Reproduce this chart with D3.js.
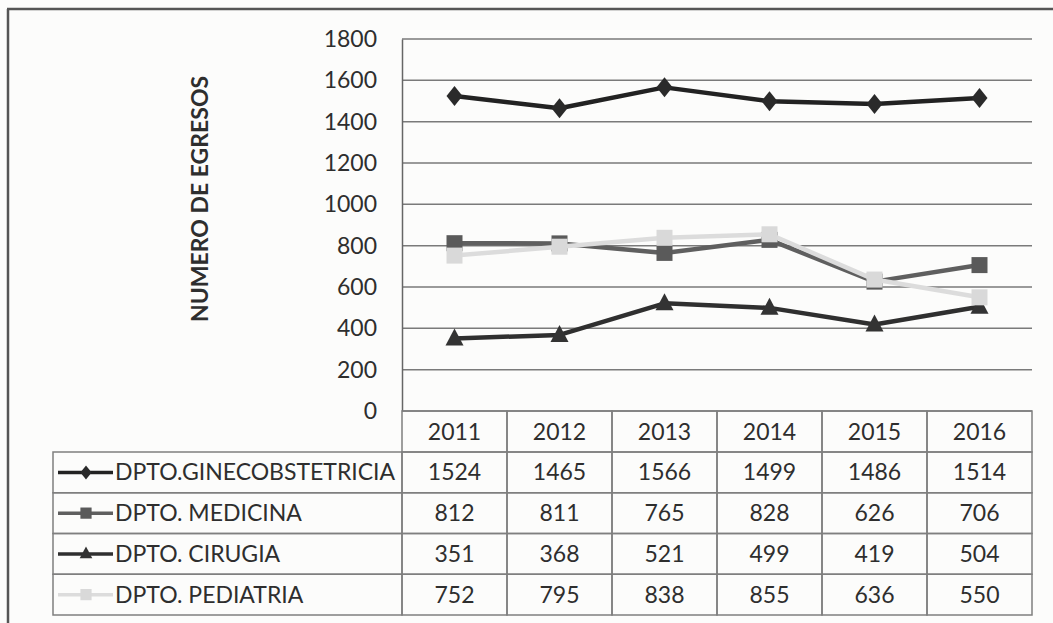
<!DOCTYPE html>
<html><head><meta charset="utf-8">
<script src="https://cdn.jsdelivr.net/npm/d3@7"></script>
<style>
html,body{margin:0;padding:0;background:#fcfcfb;}
svg{display:block;}
text{font-family:Lato,"Open Sans",sans-serif;fill:#2e2e2e;}
</style></head>
<body>
<svg id="c" width="1053" height="623"></svg>
<script>
const years = ["2011","2012","2013","2014","2015","2016"];
const seriesNames = ["DPTO.GINECOBSTETRICIA","DPTO. MEDICINA","DPTO. CIRUGIA","DPTO. PEDIATRIA"];
const gineco = [1524,1465,1566,1499,1486,1514];
const medicina = [812,811,765,828,626,706];
const cirugia = [351,368,521,499,419,504];
const pediatria = [752,795,838,855,636,550];
const yTicks = [0,200,400,600,800,1000,1200,1400,1600,1800];
const yTitle = "NUMERO DE EGRESOS";

const series = [
  {name: seriesNames[0], values: gineco, color:"#222", marker:"diamond", mcolor:"#2a2a2a"},
  {name: seriesNames[1], values: medicina, color:"#5f5f5f", marker:"square", mcolor:"#5a5a5a"},
  {name: seriesNames[2], values: cirugia, color:"#2f2f2f", marker:"triangle", mcolor:"#333"},
  {name: seriesNames[3], values: pediatria, color:"#dcdcdc", marker:"square", mcolor:"#d9d9d9"}
];

const svg = d3.select("#c");
const plotL = 402, plotR = 1032, plotT = 39, plotB = 411;
const x = d3.scaleBand().domain(years).range([plotL, plotR]);
const y = d3.scaleLinear().domain([0,1800]).range([plotB, plotT]);
const FS = "23px";

// outer frame
svg.append("line").attr("x1",7).attr("x2",1053).attr("y1",9).attr("y2",9).attr("stroke","#555").attr("stroke-width",2.5);
svg.append("line").attr("x1",8).attr("x2",8).attr("y1",9).attr("y2",623).attr("stroke","#555").attr("stroke-width",2.5);

// gridlines
svg.append("g").selectAll("line").data(yTicks).join("line")
  .attr("x1",plotL).attr("x2",plotR)
  .attr("y1",d=>y(d)).attr("y2",d=>y(d))
  .attr("stroke","#7a7a7a").attr("stroke-width",1.5);

// y axis
const yAxis = d3.axisLeft(y).tickValues(yTicks).tickSize(0).tickPadding(25).tickFormat(d3.format("d"));
const ga = svg.append("g").attr("transform",`translate(${plotL},0)`).call(yAxis);
ga.select(".domain").attr("stroke","#666").attr("stroke-width",1.5);
ga.selectAll("text").style("font-family","Lato, sans-serif").style("font-size",FS).attr("fill","#333");

// axis title
svg.append("text").attr("transform","translate(208,199) rotate(-90)")
  .attr("text-anchor","middle").style("font-size","23px").style("font-weight","bold")
  .attr("fill","#222").text(yTitle);

// table
const rowH = 40.75, headT = 411, headB = 452;
const tableL = 53;
const tg = svg.append("g");
const gridStroke = "#7f7f7f";
tg.selectAll("rect.h").data(years).join("rect")
  .attr("x",d=>x(d)).attr("y",headT).attr("width",x.bandwidth()).attr("height",headB-headT)
  .attr("fill","none").attr("stroke",gridStroke).attr("stroke-width",1.5);
tg.selectAll("text.h").data(years).join("text")
  .attr("x",d=>x(d)+x.bandwidth()/2).attr("y",(headT+headB)/2+8)
  .attr("text-anchor","middle").style("font-size",FS).text(d=>d);

series.forEach((s,i)=>{
  const top = headB + i*rowH;
  tg.append("rect").attr("x",tableL).attr("y",top).attr("width",plotL-tableL).attr("height",rowH)
    .attr("fill","none").attr("stroke",gridStroke).attr("stroke-width",1.5);
  years.forEach((yr,j)=>{
    tg.append("rect").attr("x",x(yr)).attr("y",top).attr("width",x.bandwidth()).attr("height",rowH)
      .attr("fill","none").attr("stroke",gridStroke).attr("stroke-width",1.5);
    tg.append("text").attr("x",x(yr)+x.bandwidth()/2).attr("y",top+rowH/2+8)
      .attr("text-anchor","middle").style("font-size",FS).text(s.values[j]);
  });
  const cy = top + rowH/2;
  tg.append("line").attr("x1",58).attr("x2",113).attr("y1",cy).attr("y2",cy)
    .attr("stroke",s.color).attr("stroke-width",3.5);
  drawMarker(tg, s.marker, 86, cy, s.mcolor, 0.7);
  tg.append("text").attr("x",115).attr("y",cy+8).style("font-size",FS).text(s.name);
});

function drawMarker(g, type, cx, cy, color, k){
  k = k || 1;
  if(type==="diamond"){
    const w=8*k,h=10*k;
    g.append("path").attr("d",`M${cx},${cy-h}L${cx+w},${cy}L${cx},${cy+h}L${cx-w},${cy}Z`).attr("fill",color);
  } else if(type==="square"){
    const s=8*k;
    g.append("rect").attr("x",cx-s).attr("y",cy-s).attr("width",2*s).attr("height",2*s).attr("fill",color);
  } else if(type==="triangle"){
    const w=9*k,h=9*k;
    g.append("path").attr("d",`M${cx},${cy-h-1}L${cx+w},${cy+h-2}L${cx-w},${cy+h-2}Z`).attr("fill",color);
  }
}

// lines
const line = d3.line().x((d,i)=>x(years[i])+x.bandwidth()/2).y(d=>y(d));
series.forEach(s=>{
  const g = svg.append("g");
  g.append("path").datum(s.values).attr("d",line).attr("fill","none")
    .attr("stroke",s.color).attr("stroke-width",4.5).attr("stroke-linejoin","round");
  s.values.forEach((v,i)=>drawMarker(g, s.marker, x(years[i])+x.bandwidth()/2, y(v), s.mcolor, 1));
});
</script>
</body></html>
